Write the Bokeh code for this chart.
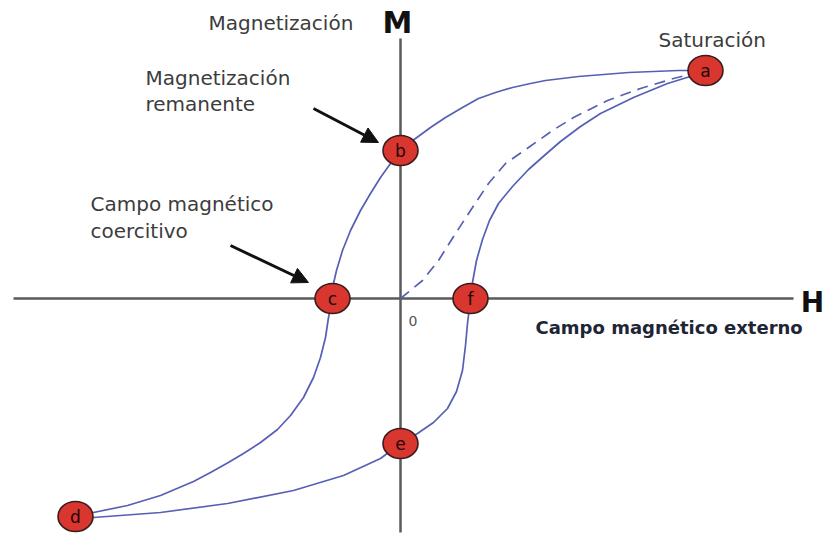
from bokeh.plotting import figure
from bokeh.models import Range1d, Arrow, NormalHead
from bokeh.core.properties import value
from bokeh.embed import file_html
from bokeh.resources import INLINE

# Hysteresis loop, field H vs magnetization M (arbitrary units)
# Descending branch: from saturation (a) back through b, c to d
down_H = [3.05, 2.78, 2.28, 1.78, 1.45, 1.30, 1.12, 0.95, 0.78, 0.62, 0.45, 0.30,
          0.15, 0.08, 0.0, -0.10, -0.20, -0.30, -0.40, -0.50, -0.58, -0.64, -0.67,
          -0.68, -0.72, -0.75, -0.80, -0.87, -0.97, -1.10, -1.23, -1.40, -1.57,
          -1.73, -1.90, -2.07, -2.40, -2.73, -3.07, -3.25]
down_M = [2.28, 2.28, 2.26, 2.22, 2.18, 2.15, 2.11, 2.06, 2.00, 1.91, 1.81, 1.71,
          1.60, 1.55, 1.48, 1.35, 1.21, 1.05, 0.88, 0.68, 0.48, 0.28, 0.15,
          0.0, -0.19, -0.39, -0.59, -0.79, -0.99, -1.17, -1.31, -1.44, -1.55,
          -1.645, -1.74, -1.83, -1.97, -2.07, -2.14, -2.18]

# Ascending branch: from d through e, f back to saturation (a)
up_H = [-3.25, -3.07, -2.40, -1.73, -1.07, -0.57, -0.20, 0.0, 0.17, 0.33, 0.47,
        0.56, 0.62, 0.65, 0.67, 0.70, 0.72, 0.76, 0.82, 0.89, 0.98, 1.12, 1.28,
        1.45, 1.60, 1.80, 2.00, 2.33, 2.67, 2.93, 3.05]
up_M = [-2.18, -2.19, -2.14, -2.05, -1.92, -1.77, -1.60, -1.45, -1.35, -1.24, -1.10,
        -0.93, -0.72, -0.47, -0.25, 0.0, 0.16, 0.38, 0.59, 0.78, 0.95, 1.12, 1.29,
        1.44, 1.57, 1.72, 1.85, 2.01, 2.15, 2.23, 2.28]

# Initial magnetization curve (dashed), from the origin to saturation
init_H = [0.0, 0.22, 0.38, 0.55, 0.72, 0.88, 1.05, 1.28, 1.52, 1.73, 2.07, 2.40, 2.73, 3.05]
init_M = [0.0, 0.18, 0.38, 0.65, 0.91, 1.15, 1.35, 1.51, 1.68, 1.81, 1.98, 2.10, 2.20, 2.28]

# Labelled points on the loop
point_names = ["a", "b", "c", "d", "e", "f"]
point_H = [3.05, 0.0, -0.68, -3.25, 0.0, 0.70]
point_M = [2.28, 1.48, 0.0, -2.18, -1.45, 0.0]

# Extent of the drawn H and M axes
h_axis = [-3.87, 3.93]
m_axis = [-2.34, 2.60]

p = figure(width=827, height=535, output_backend="svg", toolbar_location=None,
           x_range=Range1d(-4.00, 4.27), y_range=Range1d(-2.37, 2.98),
           min_border=0, outline_line_color=None)
p.axis.visible = False
p.grid.visible = False
p.background_fill_color = "white"
p.border_fill_color = "white"

axis_col = "#5a5a5a"
p.segment(x0=[h_axis[0]], y0=[0], x1=[h_axis[1]], y1=[0], line_color=axis_col, line_width=2.5)
p.segment(x0=[0], y0=[m_axis[0]], x1=[0], y1=[m_axis[1]], line_color=axis_col, line_width=2.5)

curve_col = "#5560b4"
p.line(down_H, down_M, line_color=curve_col, line_width=1.7, line_join="round")
p.line(up_H, up_M, line_color=curve_col, line_width=1.7, line_join="round")
p.line(init_H, init_M, line_color=curve_col, line_width=1.7, line_dash="11 7")

# Pointer arrows
for xs, ys, xe, ye in [(-0.87, 1.90, -0.22, 1.56), (-1.70, 0.53, -0.92, 0.16)]:
    p.add_layout(Arrow(end=NormalHead(size=16, fill_color="#111111", line_color="#111111"),
                       x_start=xs, y_start=ys, x_end=xe, y_end=ye,
                       line_color="#111111", line_width=3))

# Point markers
p.ellipse(x=point_H, y=point_M, width=35, height=30, width_units="screen",
          height_units="screen", fill_color="#d8362e", line_color="#3a1c1c", line_width=1.6)
p.text(x=point_H, y=point_M, text=point_names, text_align="center", text_baseline="middle",
       text_font=value("DejaVu Sans"), text_font_size="17px", text_color="#220808")

font = value("DejaVu Sans")
txt_col = "#3c3c3c"

def label(x, y, s, size="20px", color=txt_col, align="left", style="normal"):
    p.text(x=[x], y=[y], text=[s], text_align=align, text_baseline="middle",
           text_font=font, text_font_size=size, text_color=color, text_font_style=style)

label(-1.92, 2.76, "Magnetización")
label(-0.03, 2.76, "M", size="30px", color="#111111", align="center", style="bold")
label(-2.55, 2.21, "Magnetización")
label(-2.55, 1.95, "remanente")
label(-3.10, 0.95, "Campo magnético")
label(-3.10, 0.68, "coercitivo")
label(2.58, 2.59, "Saturación")
label(4.12, -0.04, "H", size="28px", color="#111111", align="center", style="bold")
label(1.35, -0.29, "Campo magnético externo", size="18px", color="#1e2535", style="bold")
label(0.08, -0.22, "0", size="14px", color="#555555")

open("out.html", "w").write(file_html(p, INLINE))
